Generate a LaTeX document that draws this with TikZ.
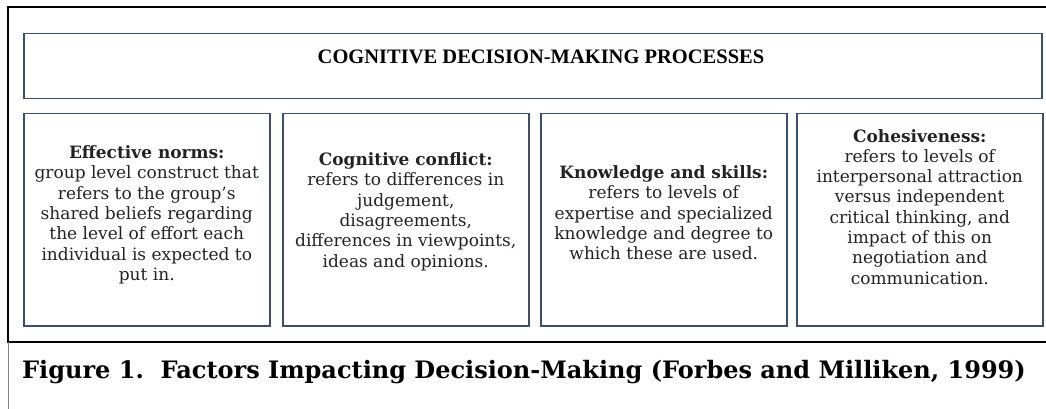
\documentclass[tikz,border=0pt]{standalone}
\usepackage{fontspec}
\setmainfont{DejaVu Serif}
\newfontfamily\headfont{Liberation Serif}
\definecolor{boxBlue}{RGB}{62, 78, 106}
\definecolor{inkGray}{RGB}{34, 34, 34}

\begin{document}
\begin{tikzpicture}[x=1pt, y=-1pt]
    % Styles
    \tikzstyle{frame} = [line width=2pt, black]
    \tikzstyle{panel} = [rectangle, draw=boxBlue, line width=1.5pt, anchor=north west, inner sep=0pt]
    \tikzstyle{factor} = [panel, minimum width=246pt, minimum height=212pt]
    \tikzstyle{factortext} = [align=center, text=inkGray, font=\fontsize{17}{20.3}\selectfont]

    \useasboundingbox (0,0) rectangle (1046,409);

    % Outer frame
    \draw[frame] (1046,7) -- (8,7) -- (8,342) -- (1046,342);
    \draw[gray, line width=0.6pt] (8,342) -- (8,409);

    % Heading
    \node[panel, minimum width=1018pt, minimum height=65pt] (heading) at (23,33) {};
    \node[font=\headfont\bfseries\fontsize{20.5}{24}\selectfont] (headtext) at (541,57) {COGNITIVE DECISION-MAKING PROCESSES};

    % Factor boxes
    \node[factor] (norms) at (23,113) {};
    \node[factor] (conflict) at (282,113) {};
    \node[factor] (skills) at (540,113) {};
    \node[factor] (cohesion) at (796,113) {};

    % Factor texts
    \node[factortext] (normstext) at ([yshift=5pt]norms.center) {\textbf{Effective norms:}\\group level construct that\\refers to the group's\\shared beliefs regarding\\the level of effort each\\individual is expected to\\put in.};
    \node[factortext] (conflicttext) at ([yshift=8pt]conflict.center) {\textbf{Cognitive conflict:}\\refers to differences in\\judgement,\\disagreements,\\differences in viewpoints,\\ideas and opinions.};
    \node[factortext] (skillstext) at ([yshift=7pt]skills.center) {\textbf{Knowledge and skills:}\\refers to levels of\\expertise and specialized\\knowledge and degree to\\which these are used.};
    \node[factortext] (cohesiontext) at ([yshift=13pt]cohesion.center) {\textbf{Cohesiveness:}\\refers to levels of\\interpersonal attraction\\versus independent\\critical thinking, and\\impact of this on\\negotiation and\\communication.};

    % Caption
    \node[font=\bfseries\fontsize{24}{28}\selectfont] (caption) at (524,372) {Figure 1.\ \ Factors Impacting Decision-Making (Forbes and Milliken, 1999)};
\end{tikzpicture}
\end{document}
